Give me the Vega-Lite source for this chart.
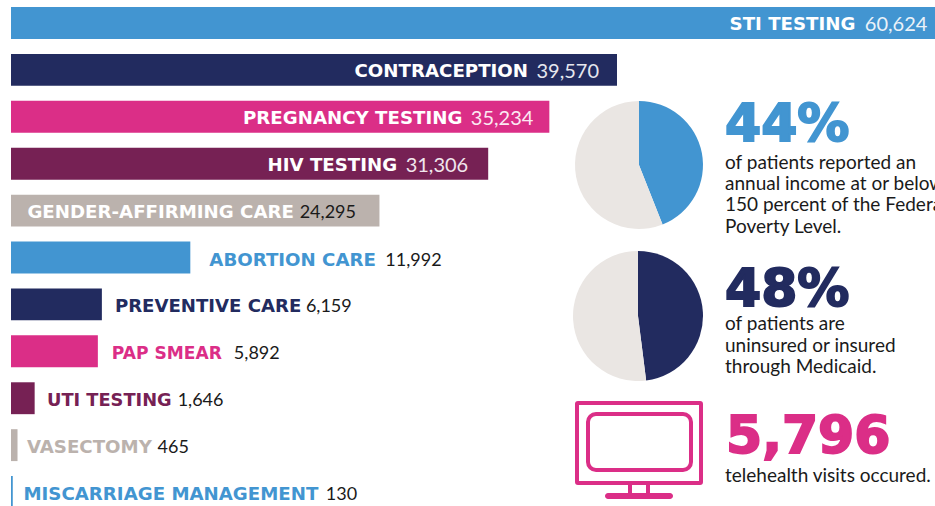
{"$schema":"https://vega.github.io/schema/vega-lite/v6.json","width":935,"height":506,"padding":0,"autosize":{"type":"none"},"background":"#ffffff","config":{"view":{"stroke":null}},
"datasets":{"services":[{"service":"STI TESTING","value":60624,"count":"60,624"},{"service":"CONTRACEPTION","value":39570,"count":"39,570"},{"service":"PREGNANCY TESTING","value":35234,"count":"35,234"},{"service":"HIV TESTING","value":31306,"count":"31,306"},{"service":"GENDER-AFFIRMING CARE","value":24295,"count":"24,295"},{"service":"ABORTION CARE","value":11992,"count":"11,992"},{"service":"PREVENTIVE CARE","value":6159,"count":"6,159"},{"service":"PAP SMEAR","value":5892,"count":"5,892"},{"service":"UTI TESTING","value":1646,"count":"1,646"},{"service":"VASECTOMY","value":465,"count":"465"},{"service":"MISCARRIAGE MANAGEMENT","value":130,"count":"130"}],
"pies":[{"block":"poverty","segment":"yes","share":44},{"block":"poverty","segment":"no","share":56},{"block":"medicaid","segment":"yes","share":48},{"block":"medicaid","segment":"no","share":52}],
"notes":[{"block":"poverty","kind":"headline","line":"h","text":"44%"},{"block":"poverty","kind":"body","line":"l1","text":"of patients reported an"},{"block":"poverty","kind":"body","line":"l2","text":"annual income at or below"},{"block":"poverty","kind":"body","line":"l3","text":"150 percent of the Federal"},{"block":"poverty","kind":"body","line":"l4","text":"Poverty Level."},{"block":"medicaid","kind":"headline","line":"h","text":"48%"},{"block":"medicaid","kind":"body","line":"l1","text":"of patients are"},{"block":"medicaid","kind":"body","line":"l2","text":"uninsured or insured"},{"block":"medicaid","kind":"body","line":"l3","text":"through Medicaid."},{"block":"telehealth","kind":"headline","line":"h","text":"5,796"},{"block":"telehealth","kind":"body","line":"l1","text":"telehealth visits occured."}],
"icon":[{"item":"telehealth monitor"}]},
"data":{"name":"services"},
"encoding":{"x":{"field":"value","type":"quantitative","axis":null,"scale":{"type":"pow","exponent":1.02,"domain":[0,39570],"range":[11,617],"nice":false,"zero":true}},"y":{"field":"service","type":"nominal","axis":null,"sort":null,"scale":{"type":"band","domain":["STI TESTING","CONTRACEPTION","PREGNANCY TESTING","HIV TESTING","GENDER-AFFIRMING CARE","ABORTION CARE","PREVENTIVE CARE","PAP SMEAR","UTI TESTING","VASECTOMY","MISCARRIAGE MANAGEMENT"],"range":[7,508],"paddingInner":0.32,"paddingOuter":0}}},
"resolve":{"scale":{"x":"independent","y":"independent","color":"independent","theta":"independent"}},
"layer":[
{"mark":{"type":"bar"},"encoding":{"color":{"field":"service","type":"nominal","legend":null,"scale":{"domain":["STI TESTING","CONTRACEPTION","PREGNANCY TESTING","HIV TESTING","GENDER-AFFIRMING CARE","ABORTION CARE","PREVENTIVE CARE","PAP SMEAR","UTI TESTING","VASECTOMY","MISCARRIAGE MANAGEMENT"],"range":["#4295D1","#222B5F","#DB2E87","#762154","#BBB2AD","#4295D1","#222B5F","#DB2E87","#762154","#BBB2AD","#4295D1"]}}}},

{"transform":[{"filter":"datum.service=='STI TESTING'"}],"mark":{"type":"text","align":"right","dx":-92,"dy":2,"font":"DejaVu Sans","fontWeight":"bold","fontSize":18.2,"color":"#ffffff"},"encoding":{"text":{"field":"service"}}},
{"transform":[{"filter":"datum.service=='STI TESTING'"}],"mark":{"type":"text","align":"right","dx":-20,"dy":2,"font":"Lato","fontSize":20,"color":"#eaf2f9"},"encoding":{"text":{"field":"count"}}},
{"transform":[{"filter":"datum.service=='CONTRACEPTION'"}],"mark":{"type":"text","align":"right","dx":-89,"dy":2,"font":"DejaVu Sans","fontWeight":"bold","fontSize":18.2,"color":"#ffffff"},"encoding":{"text":{"field":"service"}}},
{"transform":[{"filter":"datum.service=='CONTRACEPTION'"}],"mark":{"type":"text","align":"right","dx":-18,"dy":2,"font":"Lato","fontSize":20,"color":"#e6e7ee"},"encoding":{"text":{"field":"count"}}},
{"transform":[{"filter":"datum.service=='PREGNANCY TESTING'"}],"mark":{"type":"text","align":"right","dx":-87,"dy":2,"font":"DejaVu Sans","fontWeight":"bold","fontSize":18.2,"color":"#ffffff"},"encoding":{"text":{"field":"service"}}},
{"transform":[{"filter":"datum.service=='PREGNANCY TESTING'"}],"mark":{"type":"text","align":"right","dx":-16,"dy":2,"font":"Lato","fontSize":20,"color":"#fbe9f2"},"encoding":{"text":{"field":"count"}}},
{"transform":[{"filter":"datum.service=='HIV TESTING'"}],"mark":{"type":"text","align":"right","dx":-91,"dy":2,"font":"DejaVu Sans","fontWeight":"bold","fontSize":18.2,"color":"#ffffff"},"encoding":{"text":{"field":"service"}}},
{"transform":[{"filter":"datum.service=='HIV TESTING'"}],"mark":{"type":"text","align":"right","dx":-20,"dy":2,"font":"Lato","fontSize":20,"color":"#f1e6ed"},"encoding":{"text":{"field":"count"}}},
{"transform":[{"filter":"datum.service=='GENDER-AFFIRMING CARE'"}],"mark":{"type":"text","align":"right","dx":-85.5,"dy":2,"font":"DejaVu Sans","fontWeight":"bold","fontSize":18.2,"color":"#ffffff"},"encoding":{"text":{"field":"service"}}},
{"transform":[{"filter":"datum.service=='GENDER-AFFIRMING CARE'"}],"mark":{"type":"text","align":"right","dx":-23.5,"dy":2,"font":"Lato","fontSize":18,"color":"#1a1a1a"},"encoding":{"text":{"field":"count"}}},

{"transform":[{"filter":"datum.service=='ABORTION CARE'"}],"mark":{"type":"text","align":"left","dx":19,"dy":3,"font":"DejaVu Sans","fontWeight":"bold","fontSize":18.2,"color":"#4295D1"},"encoding":{"text":{"field":"service"}}},
{"transform":[{"filter":"datum.service=='ABORTION CARE'"}],"mark":{"type":"text","align":"left","dx":195,"dy":3,"font":"Lato","fontSize":18,"color":"#1a1a1a"},"encoding":{"text":{"field":"count"}}},
{"transform":[{"filter":"datum.service=='PREVENTIVE CARE'"}],"mark":{"type":"text","align":"left","dx":13,"dy":3,"font":"DejaVu Sans","fontWeight":"bold","fontSize":18.1,"color":"#222B5F"},"encoding":{"text":{"field":"service"}}},
{"transform":[{"filter":"datum.service=='PREVENTIVE CARE'"}],"mark":{"type":"text","align":"left","dx":204,"dy":3,"font":"Lato","fontSize":18,"color":"#1a1a1a"},"encoding":{"text":{"field":"count"}}},
{"transform":[{"filter":"datum.service=='PAP SMEAR'"}],"mark":{"type":"text","align":"left","dx":14,"dy":3,"font":"DejaVu Sans","fontWeight":"bold","fontSize":17.1,"color":"#DB2E87"},"encoding":{"text":{"field":"service"}}},
{"transform":[{"filter":"datum.service=='PAP SMEAR'"}],"mark":{"type":"text","align":"left","dx":136,"dy":3,"font":"Lato","fontSize":18,"color":"#1a1a1a"},"encoding":{"text":{"field":"count"}}},
{"transform":[{"filter":"datum.service=='UTI TESTING'"}],"mark":{"type":"text","align":"left","dx":12.3,"dy":3,"font":"DejaVu Sans","fontWeight":"bold","fontSize":17.8,"color":"#762154"},"encoding":{"text":{"field":"service"}}},
{"transform":[{"filter":"datum.service=='UTI TESTING'"}],"mark":{"type":"text","align":"left","dx":143,"dy":3,"font":"Lato","fontSize":18,"color":"#1a1a1a"},"encoding":{"text":{"field":"count"}}},
{"transform":[{"filter":"datum.service=='VASECTOMY'"}],"mark":{"type":"text","align":"left","dx":9.4,"dy":3,"font":"DejaVu Sans","fontWeight":"bold","fontSize":18.2,"color":"#BBB2AD"},"encoding":{"text":{"field":"service"}}},
{"transform":[{"filter":"datum.service=='VASECTOMY'"}],"mark":{"type":"text","align":"left","dx":140,"dy":3,"font":"Lato","fontSize":18,"color":"#1a1a1a"},"encoding":{"text":{"field":"count"}}},
{"transform":[{"filter":"datum.service=='MISCARRIAGE MANAGEMENT'"}],"mark":{"type":"text","align":"left","dx":10.7,"dy":3,"font":"DejaVu Sans","fontWeight":"bold","fontSize":18.2,"color":"#4295D1"},"encoding":{"text":{"field":"service"}}},
{"transform":[{"filter":"datum.service=='MISCARRIAGE MANAGEMENT'"}],"mark":{"type":"text","align":"left","dx":313,"dy":3,"font":"Lato","fontSize":18,"color":"#1a1a1a"},"encoding":{"text":{"field":"count"}}},

{"data":{"name":"pies"},"transform":[{"filter":"datum.block=='poverty'"}],"mark":{"type":"arc","outerRadius":64},"encoding":{"x":{"field":"block","type":"nominal","axis":null,"scale":{"domain":["poverty"],"range":[639,639]}},"y":{"field":"block","type":"nominal","axis":null,"scale":{"type":"point","domain":["poverty"],"range":[165,165]}},"theta":{"field":"share","type":"quantitative","scale":{"domain":[0,100]}},"order":{"field":"segment","sort":"descending"},"color":{"field":"segment","type":"nominal","legend":null,"scale":{"domain":["yes","no"],"range":["#4295D1","#EAE6E3"]}}}},
{"data":{"name":"pies"},"transform":[{"filter":"datum.block=='medicaid'"}],"mark":{"type":"arc","outerRadius":65},"encoding":{"x":{"field":"block","type":"nominal","axis":null,"scale":{"domain":["medicaid"],"range":[638,638]}},"y":{"field":"block","type":"nominal","axis":null,"scale":{"type":"point","domain":["medicaid"],"range":[316,316]}},"theta":{"field":"share","type":"quantitative","scale":{"domain":[0,100]}},"order":{"field":"segment","sort":"descending"},"color":{"field":"segment","type":"nominal","legend":null,"scale":{"domain":["yes","no"],"range":["#222B5F","#EAE6E3"]}}}},

{"data":{"name":"notes"},"transform":[{"filter":"datum.block=='poverty' && datum.kind=='headline'"}],"mark":{"type":"text","align":"left","font":"DejaVu Sans","fontWeight":"bold","fontSize":52,"color":"#4295D1","stroke":"#4295D1","strokeWidth":2},"encoding":{"x":{"field":"kind","type":"nominal","axis":null,"scale":{"domain":["headline"],"range":[725,725]}},"y":{"field":"block","type":"nominal","axis":null,"scale":{"type":"point","domain":["poverty"],"range":[125,125]}},"text":{"field":"text"}}},
{"data":{"name":"notes"},"transform":[{"filter":"datum.block=='medicaid' && datum.kind=='headline'"}],"mark":{"type":"text","align":"left","font":"DejaVu Sans","fontWeight":"bold","fontSize":52,"color":"#222B5F","stroke":"#222B5F","strokeWidth":2},"encoding":{"x":{"field":"kind","type":"nominal","axis":null,"scale":{"domain":["headline"],"range":[725,725]}},"y":{"field":"block","type":"nominal","axis":null,"scale":{"type":"point","domain":["medicaid"],"range":[290,290]}},"text":{"field":"text"}}},
{"data":{"name":"notes"},"transform":[{"filter":"datum.block=='telehealth' && datum.kind=='headline'"}],"mark":{"type":"text","align":"left","font":"DejaVu Sans","fontWeight":"bold","fontSize":52,"color":"#DB2E87","stroke":"#DB2E87","strokeWidth":2},"encoding":{"x":{"field":"kind","type":"nominal","axis":null,"scale":{"domain":["headline"],"range":[726,726]}},"y":{"field":"block","type":"nominal","axis":null,"scale":{"type":"point","domain":["telehealth"],"range":[437,437]}},"text":{"field":"text"}}},

{"data":{"name":"notes"},"transform":[{"filter":"datum.block=='poverty' && datum.kind=='body'"}],"mark":{"type":"text","align":"left","font":"Lato","fontSize":19,"color":"#1a1a1a"},"encoding":{"x":{"field":"kind","type":"nominal","axis":null,"scale":{"domain":["body"],"range":[725,725]}},"y":{"field":"line","type":"nominal","axis":null,"sort":null,"scale":{"type":"point","domain":["l1","l2","l3","l4"],"range":[162.7,226.7],"padding":0}},"text":{"field":"text"}}},
{"data":{"name":"notes"},"transform":[{"filter":"datum.block=='medicaid' && datum.kind=='body'"}],"mark":{"type":"text","align":"left","font":"Lato","fontSize":19,"color":"#1a1a1a"},"encoding":{"x":{"field":"kind","type":"nominal","axis":null,"scale":{"domain":["body"],"range":[725,725]}},"y":{"field":"line","type":"nominal","axis":null,"sort":null,"scale":{"type":"point","domain":["l1","l2","l3"],"range":[324,367],"padding":0}},"text":{"field":"text"}}},
{"data":{"name":"notes"},"transform":[{"filter":"datum.block=='telehealth' && datum.kind=='body'"}],"mark":{"type":"text","align":"left","font":"Lato","fontSize":19,"color":"#1a1a1a"},"encoding":{"x":{"field":"kind","type":"nominal","axis":null,"scale":{"domain":["body"],"range":[725,725]}},"y":{"field":"line","type":"nominal","axis":null,"sort":null,"scale":{"type":"point","domain":["l1"],"range":[476,476]}},"text":{"field":"text"}}},

{"data":{"name":"icon"},"transform":[{"calculate":"2","as":"l"},{"calculate":"126","as":"r"},{"calculate":"2","as":"t"},{"calculate":"82","as":"b"}],"mark":{"type":"rect","filled":false,"stroke":"#DB2E87","strokeWidth":4,"cornerRadius":1},"encoding":{"x":{"field":"l","type":"quantitative","axis":null,"scale":{"domain":[0,128],"range":[575,703]}},"x2":{"field":"r"},"y":{"field":"t","type":"quantitative","axis":null,"scale":{"domain":[0,99],"range":[401,500]}},"y2":{"field":"b"}}},
{"data":{"name":"icon"},"transform":[{"calculate":"13","as":"l"},{"calculate":"116","as":"r"},{"calculate":"13","as":"t"},{"calculate":"69","as":"b"}],"mark":{"type":"rect","filled":false,"stroke":"#DB2E87","strokeWidth":4,"cornerRadius":8},"encoding":{"x":{"field":"l","type":"quantitative","axis":null,"scale":{"domain":[0,128],"range":[575,703]}},"x2":{"field":"r"},"y":{"field":"t","type":"quantitative","axis":null,"scale":{"domain":[0,99],"range":[401,500]}},"y2":{"field":"b"}}},
{"data":{"name":"icon"},"transform":[{"calculate":"53","as":"l"},{"calculate":"57","as":"r"},{"calculate":"83","as":"t"},{"calculate":"93","as":"b"}],"mark":{"type":"rect","color":"#DB2E87"},"encoding":{"x":{"field":"l","type":"quantitative","axis":null,"scale":{"domain":[0,128],"range":[575,703]}},"x2":{"field":"r"},"y":{"field":"t","type":"quantitative","axis":null,"scale":{"domain":[0,99],"range":[401,500]}},"y2":{"field":"b"}}},
{"data":{"name":"icon"},"transform":[{"calculate":"71","as":"l"},{"calculate":"75","as":"r"},{"calculate":"83","as":"t"},{"calculate":"93","as":"b"}],"mark":{"type":"rect","color":"#DB2E87"},"encoding":{"x":{"field":"l","type":"quantitative","axis":null,"scale":{"domain":[0,128],"range":[575,703]}},"x2":{"field":"r"},"y":{"field":"t","type":"quantitative","axis":null,"scale":{"domain":[0,99],"range":[401,500]}},"y2":{"field":"b"}}},
{"data":{"name":"icon"},"transform":[{"calculate":"30","as":"l"},{"calculate":"98","as":"r"},{"calculate":"92","as":"t"},{"calculate":"98","as":"b"}],"mark":{"type":"rect","color":"#DB2E87","cornerRadius":3},"encoding":{"x":{"field":"l","type":"quantitative","axis":null,"scale":{"domain":[0,128],"range":[575,703]}},"x2":{"field":"r"},"y":{"field":"t","type":"quantitative","axis":null,"scale":{"domain":[0,99],"range":[401,500]}},"y2":{"field":"b"}}}
]}
